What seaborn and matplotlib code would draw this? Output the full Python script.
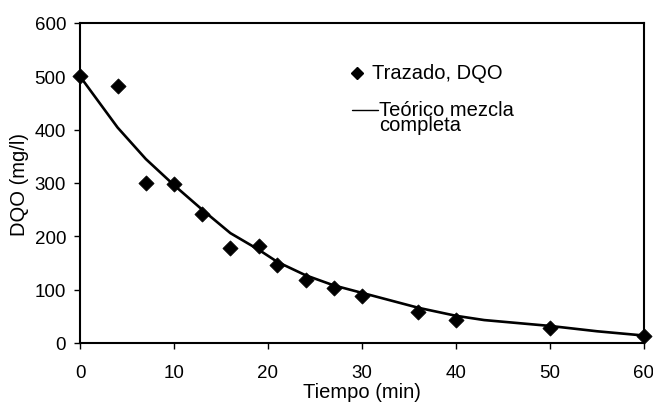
import matplotlib
matplotlib.use("Agg")
import matplotlib.pyplot as plt
import seaborn as sns
import pandas as pd

# Measured COD (trazado)
t_obs = [0, 4, 7, 10, 13, 16, 19, 21, 24, 27, 30, 36, 40, 50, 60]
dqo_obs = [500, 482, 300, 298, 242, 178, 181, 147, 118, 104, 88, 58, 43, 28, 14]

# Theoretical complete-mix curve
t_theo = [0, 4, 7, 10, 13, 16, 19, 21, 24, 27, 30, 36, 40, 43, 50, 55, 60]
dqo_theo = [500, 404, 345, 296, 250, 206, 175, 152, 127, 108, 94, 66, 51, 43, 32, 22, 14]

x_ticks = [0, 10, 20, 30, 40, 50, 60]
y_ticks = [0, 100, 200, 300, 400, 500, 600]

sns.set_theme(style="white")
plt.rcParams['font.family'] = ['Liberation Sans', 'DejaVu Sans']

fig = plt.figure(figsize=(6.53, 4.10), dpi=100)
ax = fig.add_axes([80/653, 66/410, 564/653, 320/410])

df_obs = pd.DataFrame({"t": t_obs, "dqo": dqo_obs})
df_theo = pd.DataFrame({"t": t_theo, "dqo": dqo_theo})

sns.lineplot(data=df_theo, x="t", y="dqo", ax=ax, color="black", linewidth=1.9,
             estimator=None, sort=False, legend=False)
sns.scatterplot(data=df_obs, x="t", y="dqo", ax=ax, marker="D", s=60,
                color="black", edgecolor="black", linewidth=0.5, legend=False,
                clip_on=False, zorder=5)

ax.set_xlim(0, 60)
ax.set_ylim(0, 600)
ax.set_xticks(x_ticks)
ax.set_yticks(y_ticks)
ax.tick_params(axis="both", direction="out", length=4, width=1, color="black",
               labelsize=13.5, labelcolor="black", bottom=True, left=True)
ax.tick_params(axis="x", pad=11)
ax.tick_params(axis="y", pad=6)
for s in ax.spines.values():
    s.set_color("black")
    s.set_linewidth(1.5)
    s.set_visible(True)

ax.set_xlabel("Tiempo (min)", fontsize=14.5, color="black", labelpad=1)
ax.set_ylabel("DQO (mg/l)", fontsize=14.5, color="black", labelpad=4)

# Legend (drawn manually, frameless)
ax.plot([0.491], [0.844], marker="D", markersize=6.5, color="black",
        transform=ax.transAxes, clip_on=False)
ax.text(0.517, 0.844, "Trazado, DQO", transform=ax.transAxes, fontsize=14.5,
        va="center", ha="left", color="black")
ax.plot([0.482, 0.528], [0.728, 0.728], color="black", linewidth=1.0,
        transform=ax.transAxes)
ax.text(0.530, 0.760, "Teórico mezcla\ncompleta", transform=ax.transAxes,
        fontsize=14.5, va="top", ha="left", color="black", linespacing=0.75)

fig.savefig("out.png", dpi=100, facecolor="white")
